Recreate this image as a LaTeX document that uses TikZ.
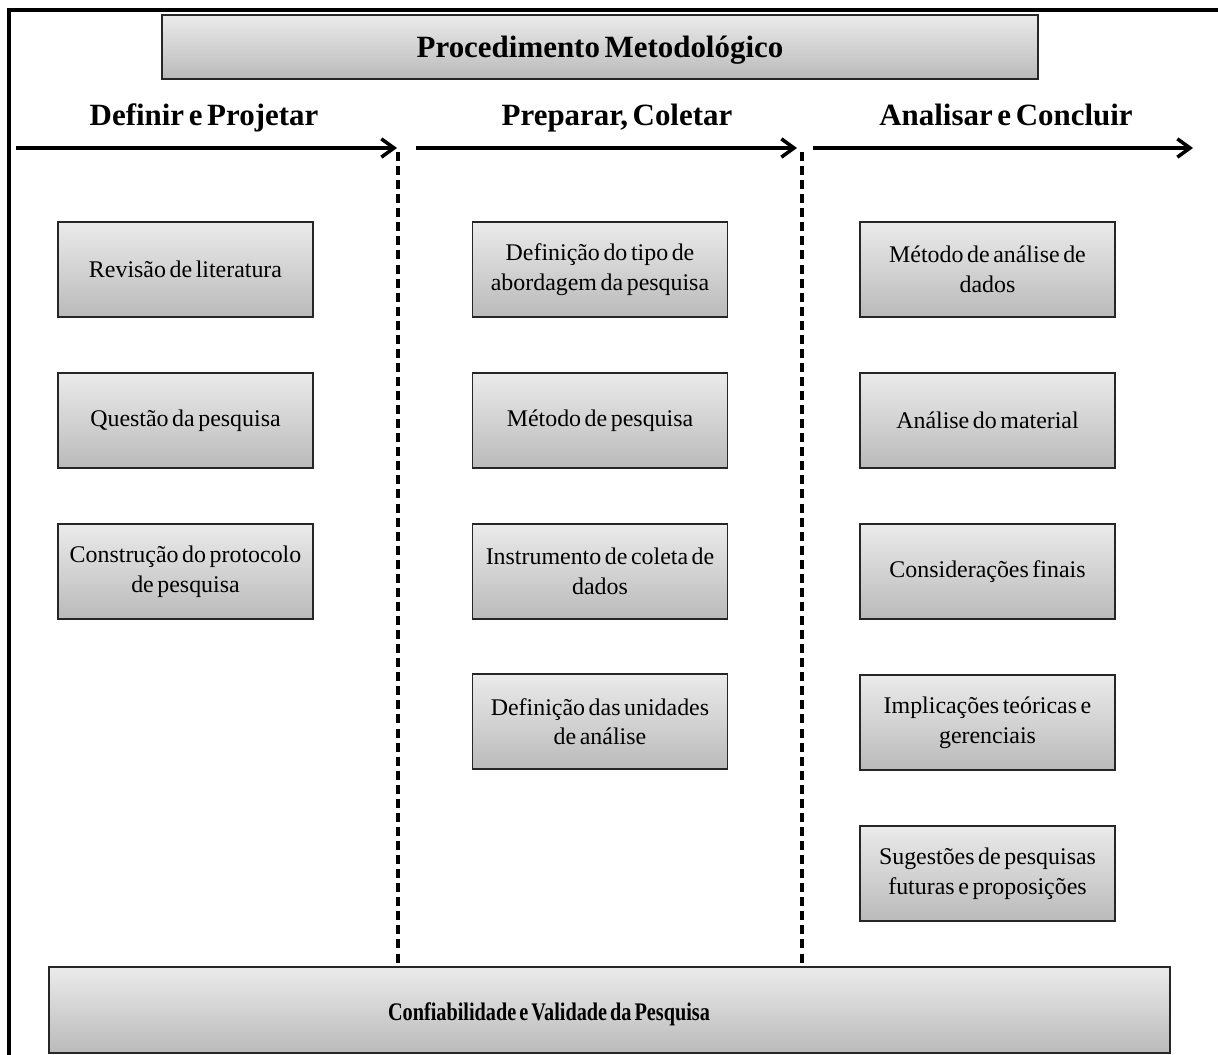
\documentclass[tikz,border=0pt]{standalone}
\usepackage{fontspec}
\usepackage{graphicx}
\setmainfont[WordSpace=0.6]{Liberation Serif}
\usetikzlibrary{arrows.meta}
\begin{document}
\begin{tikzpicture}[x=0.025cm,y=-0.025cm,
  frameline/.style={line width=2.2pt, line cap=rect},
  phase/.style={line width=2.5pt, -{Straight Barb[length=9pt,width=13pt,line width=2.5pt]}},
  divider/.style={line width=2.5pt, dash pattern=on 6.4pt off 3.6pt},
  shaded/.style={draw=black!85, line width=1.2pt, top color=gray!16, bottom color=gray!54},
  stepbox/.style={shaded, minimum width=6.375cm, minimum height=2.375cm, align=center,
    inner sep=2pt, font=\fontsize{17}{21}\selectfont},
  heading/.style={font=\fontsize{22}{24}\selectfont\bfseries, inner sep=0pt, anchor=base}
]
\useasboundingbox (0,0) rectangle (1218,1054);

% open frame: top and left edges
\draw[frameline] (9,1054) -- (9,10) -- (1218,10);

% title
\node[shaded, minimum width=21.9cm, minimum height=1.6cm, inner sep=0pt] (title) at (600,47) {};
\node[heading] (titletext) at (600,57) {Procedimento Metodológico};

% phase headings
\node[heading] (h1) at (204,125) {Definir e Projetar};
\node[heading] (h2) at (617,125) {Preparar, Coletar};
\node[heading] (h3) at (1006,125) {Analisar e Concluir};

% phase arrows
\coordinate (a1s) at (16,148);  \coordinate (a1e) at (397,148);
\coordinate (a2s) at (416,148); \coordinate (a2e) at (797,148);
\coordinate (a3s) at (813,148); \coordinate (a3e) at (1193,148);
\draw[phase] (a1s) -- (a1e);
\draw[phase] (a2s) -- (a2e);
\draw[phase] (a3s) -- (a3e);

% bottom bar
\node[shaded, minimum width=28.025cm, minimum height=2.15cm, inner sep=0pt] (conf) at (609.5,1010) {};
\node[font=\fontsize{18}{20}\selectfont\bfseries, inner sep=0pt, anchor=base] (conftext) at (549,1020)
  {\scalebox{0.8}[1]{Confiabilidade e Validade da Pesquisa}};

% dividers between phases
\coordinate (d1) at (398,152);
\coordinate (d2) at (802,152);
\draw[divider] (d1) -- (d1 |- conf.north);
\draw[divider] (d2) -- (d2 |- conf.north);

% column 1
\node[stepbox] (c11) at (185.5,269.5) {Revisão de literatura};
\node[stepbox] (c12) at (185.5,420.5) {Questão da pesquisa};
\node[stepbox] (c13) at (185.5,571.5) {Construção do protocolo\\de pesquisa};

% column 2
\node[stepbox] (c21) at (600,269.5) {Definição do tipo de\\abordagem da pesquisa};
\node[stepbox] (c22) at (600,420.5) {Método de pesquisa};
\node[stepbox] (c23) at (600,571.5) {Instrumento de coleta de\\dados};
\node[stepbox] (c24) at (600,721.5) {Definição das unidades\\de análise};

% column 3
\node[stepbox] (c31) at (987.5,269.5) {Método de análise de\\dados};
\node[stepbox] (c32) at (987.5,420.5) {Análise do material};
\node[stepbox] (c33) at (987.5,571.5) {Considerações finais};
\node[stepbox] (c34) at (987.5,722.5) {Implicações teóricas e\\gerenciais};
\node[stepbox] (c35) at (987.5,873.5) {Sugestões de pesquisas\\futuras e  proposições};
\end{tikzpicture}
\end{document}
